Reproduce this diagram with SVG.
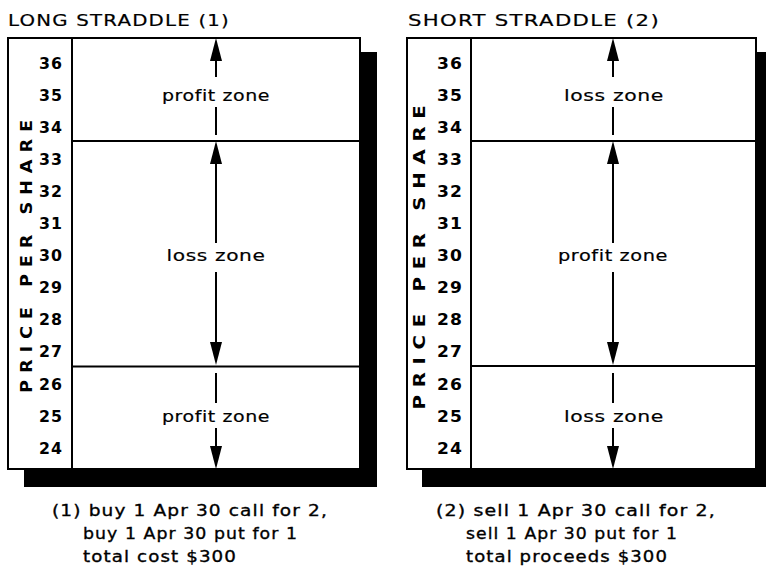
<svg xmlns="http://www.w3.org/2000/svg" width="766" height="570" viewBox="0 0 766 570">
<style>
  .title{font-family:"DejaVu Sans","Liberation Sans",sans-serif;font-size:16.5px;letter-spacing:1px;fill:#000;stroke:#000;stroke-width:0.2}
  .num{font-family:"DejaVu Sans","Liberation Sans",sans-serif;font-size:15.5px;font-weight:bold;letter-spacing:1px;fill:#000;text-anchor:end}
  .axis{font-family:"DejaVu Sans","Liberation Sans",sans-serif;font-size:15.5px;font-weight:bold;letter-spacing:6px;fill:#000;text-anchor:middle}
  .zone{font-family:"DejaVu Sans","Liberation Sans",sans-serif;font-size:16.5px;letter-spacing:0.5px;fill:#000;text-anchor:middle;stroke:#000;stroke-width:0.2}
  .note{font-family:"DejaVu Sans","Liberation Sans",sans-serif;font-size:16.5px;letter-spacing:1px;fill:#000;stroke:#000;stroke-width:0.35}
  .box{fill:#fff;stroke:#000;stroke-width:2}
  .shadow{fill:#000}
  .rule{stroke:#000;stroke-width:2;fill:none}
  .conn{stroke:#000;stroke-width:2;fill:none}
  .arr{marker-end:url(#ah)}
</style>
<defs>
  <marker id="ah" markerUnits="userSpaceOnUse" markerWidth="24" markerHeight="12" refX="13" refY="6" orient="auto">
    <path d="M0,0 L23,6 L0,12 z" fill="#000"/>
  </marker>
</defs>

<g id="long-straddle">
  <text class="title" x="8" y="26" textLength="222" lengthAdjust="spacingAndGlyphs">LONG STRADDLE (1)</text>
  <rect class="shadow" x="24" y="52" width="353" height="435"/>
  <rect class="box" x="8" y="38" width="352" height="431"/>
  <line class="rule" x1="72" y1="38" x2="72" y2="469"/>
  <line class="rule" x1="72" y1="141" x2="360" y2="141"/>
  <line class="rule" x1="72" y1="366.5" x2="360" y2="366.5"/>
  <text class="axis" transform="translate(32,253) rotate(-90)" x="0" y="0" textLength="280" lengthAdjust="spacingAndGlyphs">PRICE PER SHARE</text>
  <g id="long-scale">
    <text class="num" x="63" y="68.5" textLength="24" lengthAdjust="spacingAndGlyphs">36</text>
    <text class="num" x="63" y="100.6" textLength="24" lengthAdjust="spacingAndGlyphs">35</text>
    <text class="num" x="63" y="132.7" textLength="24" lengthAdjust="spacingAndGlyphs">34</text>
    <text class="num" x="63" y="164.8" textLength="24" lengthAdjust="spacingAndGlyphs">33</text>
    <text class="num" x="63" y="196.9" textLength="24" lengthAdjust="spacingAndGlyphs">32</text>
    <text class="num" x="63" y="229" textLength="24" lengthAdjust="spacingAndGlyphs">31</text>
    <text class="num" x="63" y="261.1" textLength="24" lengthAdjust="spacingAndGlyphs">30</text>
    <text class="num" x="63" y="293.2" textLength="24" lengthAdjust="spacingAndGlyphs">29</text>
    <text class="num" x="63" y="325.3" textLength="24" lengthAdjust="spacingAndGlyphs">28</text>
    <text class="num" x="63" y="357.4" textLength="24" lengthAdjust="spacingAndGlyphs">27</text>
    <text class="num" x="63" y="389.5" textLength="24" lengthAdjust="spacingAndGlyphs">26</text>
    <text class="num" x="63" y="421.6" textLength="24" lengthAdjust="spacingAndGlyphs">25</text>
    <text class="num" x="63" y="453.7" textLength="24" lengthAdjust="spacingAndGlyphs">24</text>
  </g>
  <g id="long-upper-zone"><text class="zone" x="216" y="101" textLength="108" lengthAdjust="spacingAndGlyphs">profit zone</text></g>
  <g id="long-middle-zone"><text class="zone" x="216" y="261" textLength="99" lengthAdjust="spacingAndGlyphs">loss zone</text></g>
  <g id="long-lower-zone"><text class="zone" x="216" y="422" textLength="108" lengthAdjust="spacingAndGlyphs">profit zone</text></g>
</g>

<g id="short-straddle">
  <text class="title" x="408" y="26" textLength="252" lengthAdjust="spacingAndGlyphs">SHORT STRADDLE (2)</text>
  <rect class="shadow" x="422" y="52" width="350" height="435"/>
  <rect class="box" x="407" y="38" width="349" height="431"/>
  <line class="rule" x1="471" y1="38" x2="471" y2="469"/>
  <line class="rule" x1="471" y1="141" x2="756" y2="141"/>
  <line class="rule" x1="471" y1="366" x2="756" y2="366"/>
  <text class="axis" transform="translate(425,253.5) rotate(-90)" x="0" y="0" textLength="312" lengthAdjust="spacingAndGlyphs">PRICE PER SHARE</text>
  <g id="short-scale">
    <text class="num" x="463" y="68.5" textLength="26" lengthAdjust="spacingAndGlyphs">36</text>
    <text class="num" x="463" y="100.6" textLength="26" lengthAdjust="spacingAndGlyphs">35</text>
    <text class="num" x="463" y="132.7" textLength="26" lengthAdjust="spacingAndGlyphs">34</text>
    <text class="num" x="463" y="164.8" textLength="26" lengthAdjust="spacingAndGlyphs">33</text>
    <text class="num" x="463" y="196.9" textLength="26" lengthAdjust="spacingAndGlyphs">32</text>
    <text class="num" x="463" y="229" textLength="26" lengthAdjust="spacingAndGlyphs">31</text>
    <text class="num" x="463" y="261.1" textLength="26" lengthAdjust="spacingAndGlyphs">30</text>
    <text class="num" x="463" y="293.2" textLength="26" lengthAdjust="spacingAndGlyphs">29</text>
    <text class="num" x="463" y="325.3" textLength="26" lengthAdjust="spacingAndGlyphs">28</text>
    <text class="num" x="463" y="357.4" textLength="26" lengthAdjust="spacingAndGlyphs">27</text>
    <text class="num" x="463" y="389.5" textLength="26" lengthAdjust="spacingAndGlyphs">26</text>
    <text class="num" x="463" y="421.6" textLength="26" lengthAdjust="spacingAndGlyphs">25</text>
    <text class="num" x="463" y="453.7" textLength="26" lengthAdjust="spacingAndGlyphs">24</text>
  </g>
  <g id="short-upper-zone"><text class="zone" x="614" y="101" textLength="100" lengthAdjust="spacingAndGlyphs">loss zone</text></g>
  <g id="short-middle-zone"><text class="zone" x="613" y="261" textLength="110" lengthAdjust="spacingAndGlyphs">profit zone</text></g>
  <g id="short-lower-zone"><text class="zone" x="614" y="422" textLength="100" lengthAdjust="spacingAndGlyphs">loss zone</text></g>
</g>

<g id="connectors">
  <line class="conn arr" x1="216" y1="77" x2="216" y2="48"/>
  <line class="conn" x1="216" y1="107" x2="216" y2="135"/>
  <line class="conn arr" x1="216" y1="243" x2="216" y2="151"/>
  <line class="conn arr" x1="216" y1="272" x2="216" y2="355"/>
  <line class="conn" x1="216" y1="373" x2="216" y2="403"/>
  <line class="conn arr" x1="216" y1="428" x2="216" y2="459"/>

  <line class="conn arr" x1="613" y1="77" x2="613" y2="48"/>
  <line class="conn" x1="613" y1="107" x2="613" y2="135"/>
  <line class="conn arr" x1="613" y1="243" x2="613" y2="151"/>
  <line class="conn arr" x1="613" y1="272" x2="613" y2="355"/>
  <line class="conn" x1="613" y1="373" x2="613" y2="403"/>
  <line class="conn arr" x1="613" y1="428" x2="613" y2="459"/>
</g>

<g id="note-long">
  <text class="note" x="52" y="516" textLength="276" lengthAdjust="spacingAndGlyphs">(1) buy 1 Apr 30 call for 2,</text>
  <text class="note" x="83" y="539" textLength="215" lengthAdjust="spacingAndGlyphs">buy 1 Apr 30 put for 1</text>
  <text class="note" x="83" y="562" textLength="154" lengthAdjust="spacingAndGlyphs">total cost $300</text>
</g>
<g id="note-short">
  <text class="note" x="436" y="516" textLength="280" lengthAdjust="spacingAndGlyphs">(2) sell 1 Apr 30 call for 2,</text>
  <text class="note" x="466" y="539" textLength="212" lengthAdjust="spacingAndGlyphs">sell 1 Apr 30 put for 1</text>
  <text class="note" x="466" y="562" textLength="202" lengthAdjust="spacingAndGlyphs">total proceeds $300</text>
</g>
</svg>
